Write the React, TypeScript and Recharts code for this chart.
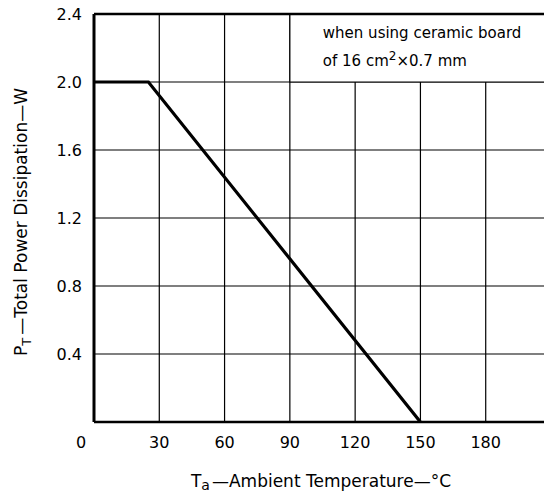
import { LineChart, Line, XAxis, YAxis, CartesianGrid, ReferenceArea, ReferenceLine } from "recharts";

// derating curve: flat at 2.0 W up to 25 °C, then linear down to 0 at 150 °C
const temps = [0, 25, 150];
const power = [2.0, 2.0, 0];

const xTicks = [0, 30, 60, 90, 120, 150, 180, 210];
const yTicks = [0, 0.4, 0.8, 1.2, 1.6, 2.0, 2.4];

const noteLine1 = "when using ceramic board";

const data = temps.map((t, i) => ({ t, p: power[i] }));

const FONT = "DejaVu Sans";

function XTick(props: any) {
  const { x, y, payload } = props;
  // 210 falls outside the cropped frame
  if (payload.value === 210) return null;
  // the zero sits left of the frame, under the y labels
  const tx = payload.value === 0 ? x - 13 : x;
  return (
    <text x={tx} y={y + 24} textAnchor="middle" fontSize={16} fontFamily={FONT} fill="#000">
      {payload.value}
    </text>
  );
}

function YTick(props: any) {
  const { x, y, payload } = props;
  if (payload.value === 0) return null;
  return (
    <text x={x - 10} y={y} dy="0.36em" textAnchor="end" fontSize={16} fontFamily={FONT} fill="#000">
      {payload.value.toFixed(1)}
    </text>
  );
}

function Note(props: any) {
  const { viewBox } = props;
  const x = viewBox.x + 33;
  const y = viewBox.y;
  return (
    <text fontFamily={FONT} fontSize={15} fill="#000">
      <tspan x={x} y={y + 24}>{noteLine1}</tspan>
      <tspan x={x} y={y + 52}>of 16 cm</tspan>
      <tspan dy={-6} fontSize={12}>2</tspan>
      <tspan dy={6}>×0.7 mm</tspan>
    </text>
  );
}

export default function App() {
  return (
    <div style={{ position: "absolute", left: 0, top: 0, width: 544, height: 493, overflow: "hidden", background: "#fff" }}>
      <LineChart width={580} height={493} data={data} margin={{ top: 14, right: 29, bottom: 0, left: 0 }}>
        <CartesianGrid stroke="#000" strokeWidth={1.2} />
        <ReferenceArea
          x1={90}
          x2={210}
          y1={2.0}
          y2={2.4}
          fill="#fff"
          fillOpacity={1}
          stroke="#000"
          strokeWidth={1.2}
          label={<Note />}
        />
        <ReferenceLine y={2.4} stroke="#000" strokeWidth={2.5} />
        <XAxis
          type="number"
          dataKey="t"
          domain={[0, 210]}
          ticks={xTicks}
          interval={0}
          height={71}
          tickSize={0}
          tickLine={false}
          axisLine={{ stroke: "#000", strokeWidth: 2.5 }}
          tick={<XTick />}
          label={{
            content: () => (
              <text x={321} y={487} textAnchor="middle" fontSize={17} fontFamily={FONT} fill="#000">
                T<tspan dy={3} fontSize={14}>a</tspan>
                <tspan dy={-3} dx={2}>—Ambient Temperature—°C</tspan>
              </text>
            ),
          }}
        />
        <YAxis
          type="number"
          domain={[0, 2.4]}
          ticks={yTicks}
          interval={0}
          width={94}
          tickSize={0}
          tickLine={false}
          axisLine={{ stroke: "#000", strokeWidth: 3 }}
          tick={<YTick />}
          label={{
            content: () => (
              <g transform="translate(27 222) rotate(-90)">
                <text x={0} y={0} textAnchor="middle" fontSize={17} fontFamily={FONT} fill="#000">
                  P<tspan dy={4} fontSize={13}>T</tspan>
                  <tspan dy={-4} dx={3}>—Total Power Dissipation—W</tspan>
                </text>
              </g>
            ),
          }}
        />
        <Line
          type="linear"
          dataKey="p"
          stroke="#000"
          strokeWidth={3.2}
          dot={false}
          isAnimationActive={false}
        />
      </LineChart>
    </div>
  );
}
